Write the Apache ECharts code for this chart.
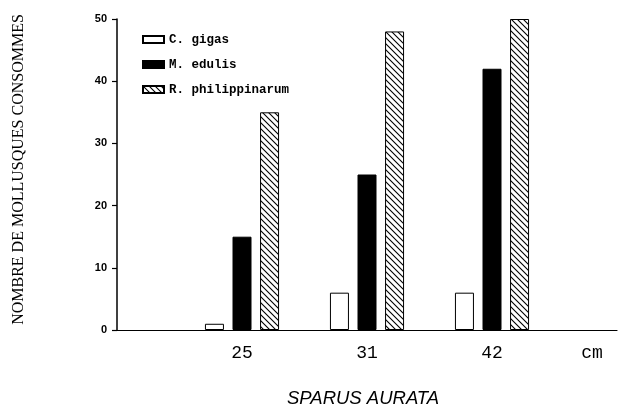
<!DOCTYPE html>
<html>
<head>
<meta charset="utf-8">
<script src="https://cdn.jsdelivr.net/npm/echarts@6/dist/echarts.min.js"></script>
<style>html,body{margin:0;padding:0;background:#fff}#c{width:622px;height:409px}</style>
</head>
<body>
<div id="c"></div>
<script>
// ---- data ----
var categories = ["", "25", "31", "42", ""];
var seriesNames = ["C. gigas", "M. edulis", "R. philippinarum"];
var cGigas = [null, 1, 6, 6, null];
var mEdulis = [null, 15, 25, 42, null];
var rPhilippinarum = [null, 35, 48, 50, null];
var yTicks = [0, 10, 20, 30, 40, 50];
var yAxisTitle = "NOMBRE DE MOLLUSQUES CONSOMMES";
var xUnit = "cm";
var chartTitle = "SPARUS AURATA";

// hatch pattern
function makeHatch() {
  var s = 6;
  var cv = document.createElement('canvas');
  cv.width = s; cv.height = s;
  var ctx = cv.getContext('2d');
  ctx.fillStyle = '#fff';
  ctx.fillRect(0, 0, s, s);
  ctx.strokeStyle = '#000';
  ctx.lineWidth = 1.1;
  ctx.beginPath();
  ctx.moveTo(-1, -1); ctx.lineTo(s + 1, s + 1);
  ctx.moveTo(-1, s - 1); ctx.lineTo(1, s + 1);
  ctx.moveTo(s - 1, -1); ctx.lineTo(s + 1, 1);
  ctx.stroke();
  return cv;
}
var hatch = { image: makeHatch(), repeat: 'repeat' };

var mono = "'Liberation Mono', 'DejaVu Sans Mono', monospace";
var chart = echarts.init(document.getElementById('c'), null, { renderer: 'canvas' });
var barStyle = { borderColor: '#000', borderWidth: 1 };
chart.setOption({
  animation: false,
  backgroundColor: '#fff',
  title: {
    text: chartTitle,
    left: 282, top: 384,
    textStyle: { fontFamily: "'Liberation Sans', Arial, sans-serif", fontStyle: 'italic', fontWeight: 'normal', fontSize: 18.5, color: '#000' }
  },
  legend: {
    orient: 'vertical',
    left: 142, top: 33,
    padding: 0,
    itemWidth: 21, itemHeight: 7, itemGap: 12,
    icon: 'rect',
    textStyle: { fontFamily: mono, fontSize: 12.5, fontWeight: 'bold', color: '#000' },
    data: seriesNames
  },
  grid: { left: 117, right: 5, top: 19, bottom: 79, outerBoundsMode: 'none', containLabel: false },
  xAxis: {
    type: 'category',
    data: categories,
    boundaryGap: false,
    axisLine: { lineStyle: { color: '#000', width: 1.2 } },
    axisTick: { show: false },
    axisLabel: { margin: 14, fontFamily: mono, fontSize: 18, color: '#000' },
    name: xUnit,
    nameLocation: 'end',
    nameGap: -25,
    nameTextStyle: { fontFamily: mono, fontSize: 18, color: '#000', align: 'center', verticalAlign: 'top', padding: [14, 0, 0, 0] }
  },
  yAxis: {
    type: 'value',
    min: yTicks[0], max: yTicks[yTicks.length - 1], interval: 10,
    splitLine: { show: false },
    axisLine: { show: true, lineStyle: { color: '#000', width: 1.5 } },
    axisTick: { show: true, length: 5, lineStyle: { color: '#000', width: 1.2 } },
    axisLabel: { margin: 10, fontFamily: "'Liberation Sans', Arial, sans-serif", fontWeight: 'bold', fontSize: 11, color: '#000' },
    name: yAxisTitle,
    nameLocation: 'middle',
    nameGap: 90,
    nameRotate: 90,
    nameTextStyle: { fontFamily: "'Liberation Serif', 'Times New Roman', serif", fontSize: 16, color: '#000', padding: [0, 0, 0, 10] }
  },
  series: [
    { name: seriesNames[0], type: 'bar', data: cGigas, barWidth: 19, barGap: '45%',
      itemStyle: Object.assign({ color: '#fff' }, barStyle) },
    { name: seriesNames[1], type: 'bar', data: mEdulis, barWidth: 19, barGap: '45%',
      itemStyle: Object.assign({ color: '#000' }, barStyle) },
    { name: seriesNames[2], type: 'bar', data: rPhilippinarum, barWidth: 19, barGap: '45%',
      itemStyle: Object.assign({ color: hatch }, barStyle) }
  ]
});
</script>
</body>
</html>
